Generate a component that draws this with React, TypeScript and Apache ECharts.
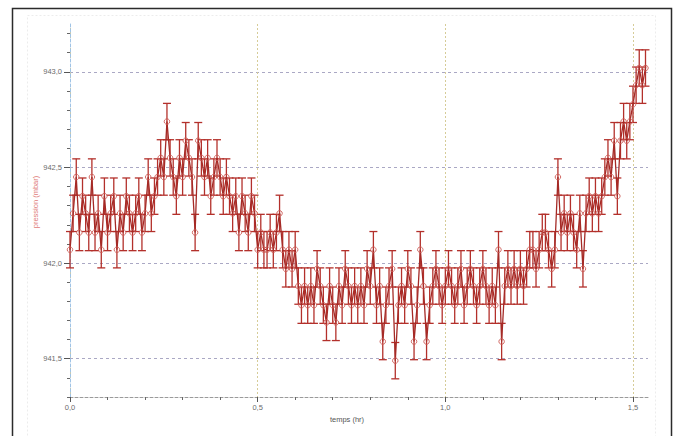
import React, { useEffect, useRef } from "react";
import * as echarts from "echarts";

// Sampling interval of the logger (hours) and pressure uncertainty (mbar)
const SAMPLE_INTERVAL_HR = 1 / 120;
const PRESSURE_ERROR_MBAR = 0.095;

// Pressure readings (mbar), in time order
const pressureStart = [
  942.07, 942.26, 942.45, 942.16, 942.35, 942.26, 942.16, 942.45, 942.16, 942.26,
  942.07, 942.35, 942.16, 942.26, 942.35, 942.07, 942.26, 942.16, 942.35,
  942.26, 942.16, 942.26, 942.35, 942.16, 942.26, 942.45, 942.26,
];
const pressurePeak = [
  942.35, 942.45, 942.55, 942.45, 942.74, 942.55, 942.45,
  942.35, 942.55, 942.45, 942.64, 942.55, 942.45, 942.16, 942.64, 942.55,
  942.45, 942.55, 942.35, 942.45, 942.55, 942.45, 942.35, 942.45,
];
const pressureDecline = [
  942.35, 942.26, 942.35, 942.16, 942.35, 942.26, 942.16,
  942.35, 942.26, 942.07, 942.16, 942.07,
  942.07, 942.16, 942.07, 942.16, 942.26, 942.07, 941.97, 942.07, 941.97, 942.07, 941.88,
];
const pressureTrough = [
  941.78, 941.88, 941.78, 941.88, 941.78, 941.97, 941.88, 941.78, 941.69, 941.88,
  941.78, 941.69, 941.88, 941.78, 941.97, 941.88, 941.78, 941.88, 941.78,
  941.88, 941.78, 941.97, 941.88, 942.07, 941.78, 941.88, 941.59, 941.78, 941.88,
  941.97, 941.49, 941.78, 941.88, 941.78, 941.97, 941.88, 941.59, 941.78, 942.07,
  941.88, 941.59, 941.78,
  941.88, 941.97, 941.88, 941.78, 941.88, 941.97, 941.88, 941.78, 941.88, 941.97,
  941.78, 941.88, 941.97, 941.88, 941.78, 941.88, 941.97, 941.88, 941.78, 941.88,
  941.78, 942.07,
  941.59, 941.88, 941.97, 941.88, 941.97, 941.88, 941.97, 941.88,
];
const pressureRise = [
  941.97, 942.07, 942.07, 941.97, 942.07, 942.16, 942.16, 942.07,
  941.97, 942.07, 942.45, 942.16, 942.26, 942.16, 942.26, 942.16, 942.07, 942.26,
  941.97, 942.26, 942.35, 942.26, 942.35, 942.26, 942.35,
  942.45, 942.55, 942.45, 942.64, 942.35,
  942.64, 942.74, 942.64, 942.74,
  942.83, 942.93, 943.02, 942.93, 943.02,
];
const pressureValues = [
  ...pressureStart,
  ...pressurePeak,
  ...pressureDecline,
  ...pressureTrough,
  ...pressureRise,
];

// Axis ticks and labels
const X_MAJOR_TICKS = [0, 0.5, 1.0, 1.5];
const X_MINOR_TICKS = [0.1, 0.2, 0.3, 0.4, 0.6, 0.7, 0.8, 0.9, 1.1, 1.2, 1.3, 1.4];
const Y_MAJOR_TICKS = [941.5, 942.0, 942.5, 943.0];
const Y_MINOR_TICKS = [
  941.3, 941.4, 941.6, 941.7, 941.8, 941.9, 942.1, 942.2, 942.3, 942.4,
  942.6, 942.7, 942.8, 942.9, 943.1, 943.2,
];
const X_MIN = 0;
const X_MAX = 1.54;
const Y_MIN = 941.3;
const Y_MAX = 943.25;

const X_TITLE = "temps (hr)";
const Y_TITLE = "pression (mbar)";

const SERIES_COLOR = "#b3302b";
const LINE_COLOR = "#a52a26";
const MARKER_COLOR = "#cc5a55";
const FONT = "Liberation Sans, Arial, sans-serif";

const fmt = (v: number) => v.toFixed(1).replace(".", ",");

export default function App() {
  const ref = useRef<HTMLDivElement>(null);

  useEffect(() => {
    if (!ref.current) return;
    const chart = echarts.init(ref.current, null, { renderer: "svg" });

    const points = pressureValues.map((v, i) => [i * SAMPLE_INTERVAL_HR, v]);
    const bars = pressureValues.map((v, i) => [
      i * SAMPLE_INTERVAL_HR,
      v - PRESSURE_ERROR_MBAR,
      v + PRESSURE_ERROR_MBAR,
    ]);

    const labelStyle = { color: "#6b6b6b", fontSize: 7.5, fontFamily: FONT };

    chart.setOption({
      animation: false,
      backgroundColor: "#ffffff",
      grid: { left: 70, right: 30, top: 24, bottom: 39, containLabel: false },
      xAxis: [
        {
          type: "value",
          min: X_MIN,
          max: X_MAX,
          axisLine: { show: true, lineStyle: { color: "#9a9a9a", type: [3, 2], width: 1 } },
          axisTick: {
            show: true,
            customValues: X_MAJOR_TICKS,
            length: 5,
            lineStyle: { color: "#555" },
          },
          axisLabel: {
            customValues: X_MAJOR_TICKS,
            formatter: (v: number) => fmt(v),
            margin: 6,
            ...labelStyle,
          },
          splitLine: {
            show: true,
            lineStyle: { color: "#d6cc98", type: [2, 2], width: 1 },
          },
        },
        {
          type: "value",
          min: X_MIN,
          max: X_MAX,
          position: "bottom",
          axisLine: { show: false },
          axisTick: {
            show: true,
            customValues: X_MINOR_TICKS,
            length: 3,
            lineStyle: { color: "#666" },
          },
          axisLabel: { show: false },
          splitLine: { show: false },
        },
      ],
      yAxis: [
        {
          type: "value",
          min: Y_MIN,
          max: Y_MAX,
          axisLine: { show: true, lineStyle: { color: "#9fc3e6", type: [3, 2], width: 1 } },
          axisTick: {
            show: true,
            customValues: Y_MAJOR_TICKS,
            length: 6,
            lineStyle: { color: "#555" },
          },
          axisLabel: {
            customValues: Y_MAJOR_TICKS,
            formatter: (v: number) => fmt(v),
            margin: 8,
            ...labelStyle,
          },
          splitLine: {
            show: true,
            lineStyle: { color: "#aaa8c4", type: [3, 3], width: 1 },
          },
        },
        {
          type: "value",
          min: Y_MIN,
          max: Y_MAX,
          position: "left",
          axisLine: { show: false },
          axisTick: {
            show: true,
            customValues: Y_MINOR_TICKS,
            length: 3,
            lineStyle: { color: "#666" },
          },
          axisLabel: { show: false },
          splitLine: { show: false },
        },
      ],
      graphic: [
        {
          type: "rect",
          silent: true,
          z: -1,
          shape: { x: 27.5, y: 15.5, width: 628, height: 440 },
          style: { fill: "none", stroke: "#ececec", lineWidth: 1, lineDash: [2, 2] },
        },
        {
          type: "rect",
          silent: true,
          shape: { x: 12.5, y: 8.5, width: 659, height: 450 },
          style: { fill: "none", stroke: "#2b2b2b", lineWidth: 1.5 },
        },
        {
          type: "text",
          x: 347,
          y: 419,
          style: {
            text: X_TITLE,
            fill: "#555555",
            font: `7.5px ${FONT}`,
            align: "center",
            verticalAlign: "middle",
          },
        },
        {
          type: "text",
          x: 35,
          y: 202,
          rotation: Math.PI / 2,
          style: {
            text: Y_TITLE,
            fill: "#e07a78",
            font: `7.5px ${FONT}`,
            align: "center",
            verticalAlign: "middle",
          },
        },
      ],
      series: [
        {
          type: "custom",
          name: "erreur",
          xAxisIndex: 0,
          yAxisIndex: 0,
          z: 2,
          encode: { x: 0, y: [1, 2] },
          data: bars,
          renderItem: (_params: any, api: any) => {
            const x = api.value(0);
            const lo = api.coord([x, api.value(1)]);
            const hi = api.coord([x, api.value(2)]);
            const hw = 4;
            const style = { stroke: SERIES_COLOR, lineWidth: 1.3, fill: "none" };
            return {
              type: "group",
              children: [
                { type: "line", shape: { x1: lo[0], y1: lo[1], x2: hi[0], y2: hi[1] }, style },
                { type: "line", shape: { x1: lo[0] - hw, y1: lo[1], x2: lo[0] + hw, y2: lo[1] }, style },
                { type: "line", shape: { x1: hi[0] - hw, y1: hi[1], x2: hi[0] + hw, y2: hi[1] }, style },
              ],
            };
          },
        },
        {
          type: "line",
          name: "pression",
          xAxisIndex: 0,
          yAxisIndex: 0,
          z: 3,
          data: points,
          symbol: "circle",
          symbolSize: 5.5,
          showAllSymbol: true,
          itemStyle: { color: "rgba(255,255,255,0)", borderColor: MARKER_COLOR, borderWidth: 0.9 },
          lineStyle: { color: LINE_COLOR, width: 1.3 },
          emphasis: { disabled: true },
        },
      ],
    });

    return () => chart.dispose();
  }, []);

  return (
    <div
      ref={ref}
      style={{ position: "fixed", left: 0, top: 0, width: 678, height: 436 }}
    />
  );
}
